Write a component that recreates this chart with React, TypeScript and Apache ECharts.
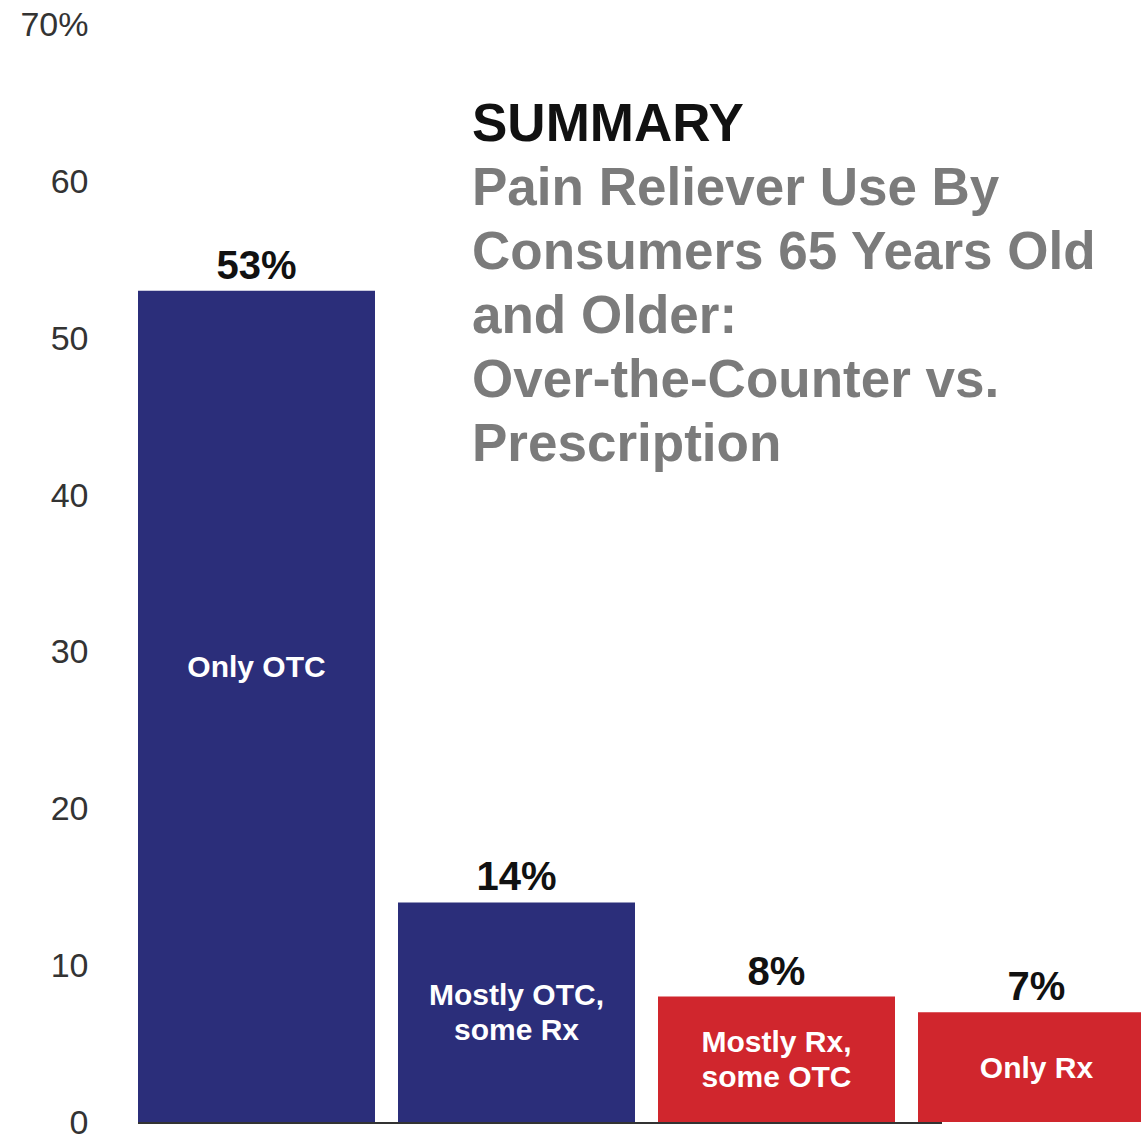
import React, { useEffect, useRef } from "react";
import * as echarts from "echarts";

// Share of consumers 65+ by pain-reliever usage pattern (percent)
const categories = ["Only OTC", "Mostly OTC,\nsome Rx", "Mostly Rx,\nsome OTC", "Only Rx"];
const shares = [53, 14, 8, 7];
const barColors = ["#2b2e7a", "#2b2e7a", "#d0262d", "#d0262d"];
const yTicks = [0, 10, 20, 30, 40, 50, 60, 70];

const titleMain = "SUMMARY";
const titleSub = [
  "Pain Reliever Use By",
  "Consumers 65 Years Old",
  "and Older:",
  "Over-the-Counter vs.",
  "Prescription",
];

const FONT = "'Liberation Sans', Arial, Helvetica, sans-serif";

export default function App() {
  const ref = useRef<HTMLDivElement>(null);

  useEffect(() => {
    if (!ref.current) return;
    const chart = echarts.init(ref.current, undefined, { renderer: "svg" });
    const yMax = yTicks[yTicks.length - 1];

    chart.setOption({
      animation: false,
      backgroundColor: "#ffffff",
      title: [
        {
          text: titleMain,
          left: 467,
          top: 91,
          textStyle: { fontFamily: FONT, fontSize: 53, fontWeight: "bold", color: "#111111" },
        },
        {
          text: titleSub.join("\n"),
          left: 467,
          top: 149,
          textStyle: {
            fontFamily: FONT,
            fontSize: 53,
            fontWeight: "bold",
            color: "#7b7b7b",
            lineHeight: 64,
          },
        },
      ],
      // the last category runs past the right edge of the canvas
      grid: {
        left: 126.5,
        width: 1040,
        top: 24,
        bottom: 18,
        containLabel: false,
        outerBoundsMode: "none",
      },
      xAxis: {
        type: "category",
        data: categories,
        axisLine: { show: false },
        axisTick: { show: false },
        axisLabel: { show: false },
      },
      yAxis: {
        type: "value",
        min: 0,
        max: yMax,
        interval: 10,
        axisLine: { show: false },
        axisTick: { show: false },
        splitLine: { show: false },
        axisLabel: {
          margin: 38,
          fontFamily: FONT,
          fontSize: 34,
          color: "#333333",
          formatter: (v: number) => (v === yMax ? `${v}%` : `${v}`),
        },
      },
      series: [
        {
          type: "bar",
          barWidth: 237,
          barGap: "-100%",
          data: shares.map((v, i) => ({
            value: v,
            itemStyle: { color: barColors[i] },
            label: i === 0 ? { offset: [0, -40] } : undefined,
          })),
          label: {
            show: true,
            position: "inside",
            formatter: (p: any) => categories[p.dataIndex],
            fontFamily: FONT,
            fontSize: 30,
            fontWeight: "bold",
            color: "#ffffff",
            lineHeight: 35,
            align: "center",
          },
        },
        {
          type: "bar",
          barWidth: 237,
          barGap: "-100%",
          silent: true,
          data: shares,
          itemStyle: { color: "rgba(0,0,0,0)" },
          label: {
            show: true,
            position: "top",
            distance: 6,
            formatter: "{c}%",
            fontFamily: FONT,
            fontSize: 40,
            fontWeight: "bold",
            color: "#111111",
          },
        },
      ],
      graphic: [
        {
          type: "line",
          shape: { x1: 138, y1: 1123, x2: 942, y2: 1123 },
          style: { stroke: "#333333", lineWidth: 2 },
          z: 10,
        },
      ],
    });

    return () => chart.dispose();
  }, []);

  return (
    <div
      ref={ref}
      style={{ position: "fixed", left: 0, top: 0, width: 1141, height: 1140 }}
    />
  );
}
